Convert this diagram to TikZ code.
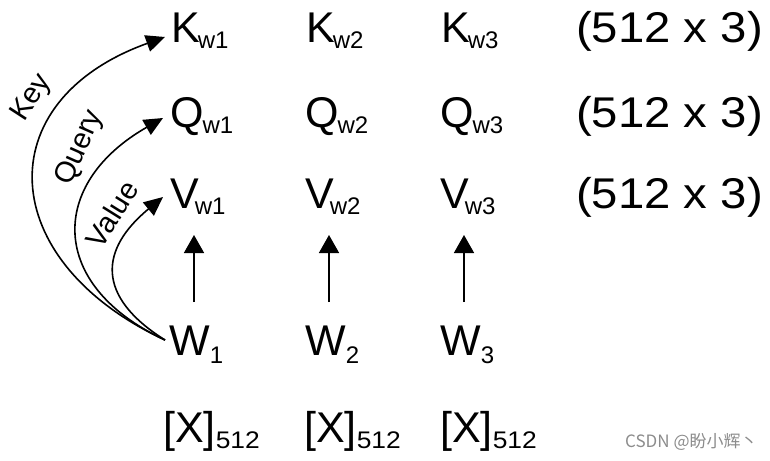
\documentclass[tikz,border=0pt]{standalone}
\usepackage{fontspec}
\usepackage{graphicx}
\setmainfont{Liberation Sans}
\newfontfamily\cjkfont{Noto Sans CJK SC}
\usetikzlibrary{arrows.meta}
\newcommand\mysub[2][-6pt]{\raisebox{#1}{\fontsize{24}{26}\selectfont #2}}
\newcommand\widetxt[1]{\scalebox{1.1}[1]{#1}}
\begin{document}
\begin{tikzpicture}[x=1pt,y=-1pt,
  lbl/.style={font=\fontsize{43}{50}\selectfont, inner sep=0pt, anchor=base west},
  curvelbl/.style={font=\fontsize{29}{32}\selectfont, inner sep=0pt},
  varr/.style={line width=1.6pt, -{Triangle[length=18pt,width=20pt]}},
  carr/.style={line width=1.6pt, -{Triangle[length=19pt,width=17pt]}},
]
\useasboundingbox (0,0) rectangle (770,460);
% rows
\node[lbl] (K1) at (171,42) {K\kern-2pt\mysub{w1}};
\node[lbl] (K2) at (306,42) {K\kern-2pt\mysub{w2}};
\node[lbl] (K3) at (441,42) {K\kern-2pt\mysub{w3}};
\node[lbl] (Kd) at (576,42) {\widetxt{(512 x 3)}};
\node[lbl] (Q1) at (170,127) {Q\kern-1pt\mysub{w1}};
\node[lbl] (Q2) at (305,127) {Q\kern-1pt\mysub{w2}};
\node[lbl] (Q3) at (440,127) {Q\kern-1pt\mysub{w3}};
\node[lbl] (Qd) at (576,127) {\widetxt{(512 x 3)}};
\node[lbl] (V1) at (170,208) {V\kern-4pt\mysub{w1}};
\node[lbl] (V2) at (305,208) {V\kern-4pt\mysub{w2}};
\node[lbl] (V3) at (440,208) {V\kern-4pt\mysub{w3}};
\node[lbl] (Vd) at (576,208) {\widetxt{(512 x 3)}};
\node[lbl] (W1) at (169,355) {W\mysub[-8pt]{1}};
\node[lbl] (W2) at (305,355) {W\mysub[-8pt]{2}};
\node[lbl] (W3) at (440,355) {W\mysub[-8pt]{3}};
\node[lbl] (X1) at (163,442) {[X]\mysub{\widetxt{512}}};
\node[lbl] (X2) at (304,442) {[X]\mysub{\widetxt{512}}};
\node[lbl] (X3) at (440,442) {[X]\mysub{\widetxt{512}}};
% vertical arrows
\draw[varr] ([shift={(25,-53)}]W1.base west) -- ([shift={(24,27)}]V1.base west);
\draw[varr] ([shift={(24,-53)}]W2.base west) -- ([shift={(24,27)}]V2.base west);
\draw[varr] ([shift={(24,-53)}]W3.base west) -- ([shift={(24,27)}]V3.base west);
% curved arrows
\draw[carr] ([shift={(-4,-15)}]W1.base west) .. controls +(-170,-79) and +(-178,64) .. ([shift={(-6,-5)}]K1.base west);
\draw[carr] ([shift={(-4,-15)}]W1.base west) .. controls +(-118,-55) and +(-114,65) .. ([shift={(-7,-9)}]Q1.base west);
\draw[carr] ([shift={(-4,-15)}]W1.base west) .. controls +(-70,-44) and +(-63,52) .. ([shift={(-7,-11)}]V1.base west);
% labels
\node[curvelbl, rotate=57] (lk) at (32,98) {Key};
\node[curvelbl, rotate=66] (lq) at (80,148) {Query};
\node[curvelbl, rotate=58] (lv) at (112,214) {Value};
% watermark
\node[text=black!45, font=\cjkfont\fontsize{17}{20}\selectfont, anchor=base west, inner sep=0pt] (wm) at (625,447) {CSDN @盼小辉丶};
\end{tikzpicture}
\end{document}
